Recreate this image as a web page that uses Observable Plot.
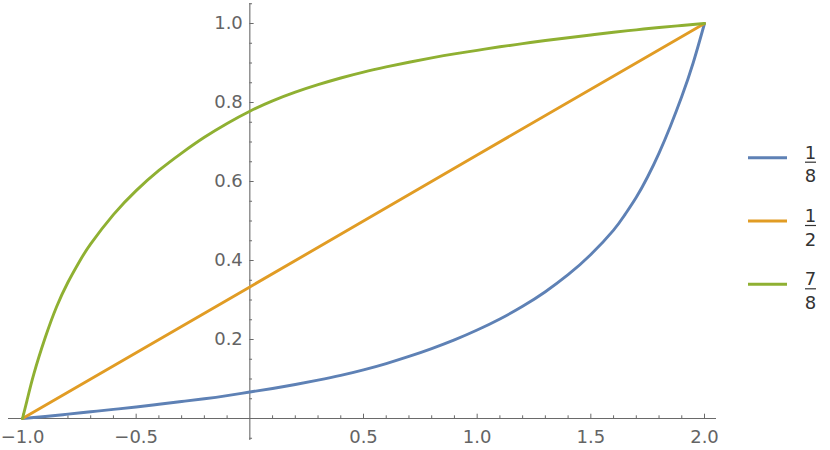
<!DOCTYPE html>
<html>
<head>
<meta charset="utf-8">
<script src="https://cdn.jsdelivr.net/npm/d3@7"></script>
<script src="https://cdn.jsdelivr.net/npm/@observablehq/plot@0.6"></script>
<style>
  html, body { margin: 0; padding: 0; background: #fff; }
  #wrap { position: relative; width: 830px; height: 450px; font-family: "DejaVu Sans", sans-serif; }
  #legend { position: absolute; left: 0; top: 0; }
</style>
</head>
<body>
<div id="wrap"></div>
<script>
// ---- data ----
const seriesNames = ["1/8", "1/2", "7/8"];

const blueX = [-1, -0.9, -0.8, -0.7, -0.6, -0.5, -0.4, -0.3, -0.2, -0.1, 0, 0.1, 0.2, 0.3, 0.4, 0.5, 0.6, 0.7, 0.8, 0.9, 1.0, 1.1, 1.2, 1.3, 1.4, 1.5, 1.6, 1.65, 1.7, 1.75, 1.8, 1.85, 1.9, 1.95, 2.0];
const blueY = [0, 0.005, 0.011, 0.017, 0.023, 0.029, 0.036, 0.043, 0.050, 0.058, 0.067, 0.076, 0.086, 0.097, 0.109, 0.123, 0.139, 0.157, 0.177, 0.199, 0.224, 0.252, 0.284, 0.321, 0.364, 0.415, 0.477, 0.516, 0.560, 0.612, 0.672, 0.740, 0.815, 0.900, 1.0];

const orangeX = [-1, 0, 1, 2];
const orangeY = [0, 0.333, 0.667, 1.0];

const greenX = [-1, -0.98, -0.95, -0.9, -0.85, -0.8, -0.75, -0.7, -0.6, -0.5, -0.4, -0.3, -0.2, -0.1, 0, 0.1, 0.2, 0.3, 0.4, 0.5, 0.6, 0.7, 0.8, 0.9, 1.0, 1.1, 1.2, 1.3, 1.4, 1.5, 1.6, 1.7, 1.8, 1.9, 2.0];
const greenY = [0, 0.046, 0.113, 0.205, 0.283, 0.345, 0.397, 0.442, 0.516, 0.577, 0.628, 0.672, 0.712, 0.747, 0.778, 0.804, 0.826, 0.845, 0.862, 0.877, 0.890, 0.902, 0.913, 0.923, 0.932, 0.941, 0.949, 0.957, 0.964, 0.971, 0.978, 0.984, 0.990, 0.995, 1.0];

const xMajorTicks = [-1, -0.5, 0.5, 1, 1.5, 2];
const xMinorTicks = [-0.9, -0.8, -0.7, -0.6, -0.4, -0.3, -0.2, -0.1, 0.1, 0.2, 0.3, 0.4, 0.6, 0.7, 0.8, 0.9, 1.1, 1.2, 1.3, 1.4, 1.6, 1.7, 1.8, 1.9];
const yMajorTicks = [0.2, 0.4, 0.6, 0.8, 1.0];
const yMinorTicks = [-0.05, 0.05, 0.1, 0.15, 0.25, 0.3, 0.35, 0.45, 0.5, 0.55, 0.65, 0.7, 0.75, 0.85, 0.9, 0.95, 1.05];

// ---- layout / style ----
const W = 830, H = 450;
const mLeft = 22, mRight = W - 704, mTop = 23, mBottom = H - 418;
const pxPerX = (704 - 22) / 3, pxPerY = (418 - 23) / 1;
const axisColor = "#6a6a6a";
const labelColor = "#646464";
const colors = ["#5E81B5", "#E19C24", "#8FB032"];
const lw = 2.9;
const majorLen = 4.3, minorLen = 2.7;
const xAxisExt = [-1 - 14 / pxPerX, 2 + 12 / pxPerX];
const yAxisExt = [0 - 22 / pxPerY, 1 + 20 / pxPerY];
const fontSize = "18px";

const fmt = d => (d < 0 ? "\u2212" : "") + Math.abs(d).toFixed(1);
const toRows = (xs, ys) => xs.map((x, i) => ({x, y: ys[i]}));

const chart = Plot.plot({
  width: W, height: H,
  marginLeft: mLeft, marginRight: mRight, marginTop: mTop, marginBottom: mBottom,
  x: {domain: [-1, 2]},
  y: {domain: [0, 1]},
  axis: null,
  style: {fontFamily: "DejaVu Sans, sans-serif", fontSize, overflow: "visible", background: "transparent"},
  marks: [
    Plot.ruleY([0], {x1: xAxisExt[0], x2: xAxisExt[1], stroke: axisColor, strokeWidth: 1.1}),
    Plot.ruleX([0], {y1: yAxisExt[0], y2: yAxisExt[1], stroke: axisColor, strokeWidth: 1.1}),
    Plot.ruleX(xMajorTicks, {x: d => d, y1: 0, y2: majorLen / pxPerY, stroke: axisColor}),
    Plot.ruleX(xMinorTicks, {x: d => d, y1: 0, y2: minorLen / pxPerY, stroke: axisColor}),
    Plot.ruleY(yMajorTicks, {y: d => d, x1: 0, x2: majorLen / pxPerX, stroke: axisColor}),
    Plot.ruleY(yMinorTicks, {y: d => d, x1: 0, x2: minorLen / pxPerX, stroke: axisColor}),
    Plot.text(xMajorTicks, {x: d => d, y: 0, text: fmt, dy: 19, fill: labelColor, textAnchor: "middle"}),
    Plot.text(yMajorTicks, {y: d => d, x: 0, text: fmt, dx: -7, fill: labelColor, textAnchor: "end"}),
    Plot.line(toRows(blueX, blueY), {x: "x", y: "y", stroke: colors[0], strokeWidth: lw, curve: "natural"}),
    Plot.line(toRows(orangeX, orangeY), {x: "x", y: "y", stroke: colors[1], strokeWidth: lw, curve: "linear"}),
    Plot.line(toRows(greenX, greenY), {x: "x", y: "y", stroke: colors[2], strokeWidth: lw, curve: "natural"})
  ]
});

const wrap = document.getElementById("wrap");
wrap.appendChild(chart);

// ---- legend (fractions) ----
const legendLineY = [157.7, 221, 284.3];
const ns = "http://www.w3.org/2000/svg";
const leg = document.createElementNS(ns, "svg");
leg.setAttribute("id", "legend");
leg.setAttribute("width", W);
leg.setAttribute("height", H);
leg.style.fontFamily = "DejaVu Sans, sans-serif";
leg.style.fontSize = fontSize;
seriesNames.forEach((name, i) => {
  const [num, den] = name.split("/");
  const L = legendLineY[i];
  const line = document.createElementNS(ns, "line");
  line.setAttribute("x1", 748); line.setAttribute("x2", 787);
  line.setAttribute("y1", L); line.setAttribute("y2", L);
  line.setAttribute("stroke", colors[i]); line.setAttribute("stroke-width", lw);
  leg.appendChild(line);
  const t1 = document.createElementNS(ns, "text");
  t1.setAttribute("x", 810.5); t1.setAttribute("y", L + 0.8);
  t1.setAttribute("text-anchor", "middle"); t1.setAttribute("fill", "#333");
  t1.textContent = num; leg.appendChild(t1);
  const bar = document.createElementNS(ns, "line");
  bar.setAttribute("x1", 805); bar.setAttribute("x2", 816);
  bar.setAttribute("y1", L + 4.5); bar.setAttribute("y2", L + 4.5);
  bar.setAttribute("stroke", "#333"); bar.setAttribute("stroke-width", 1.2);
  leg.appendChild(bar);
  const t2 = document.createElementNS(ns, "text");
  t2.setAttribute("x", 810.5); t2.setAttribute("y", L + 24.5);
  t2.setAttribute("text-anchor", "middle"); t2.setAttribute("fill", "#333");
  t2.textContent = den; leg.appendChild(t2);
});
wrap.appendChild(leg);
</script>
</body>
</html>
